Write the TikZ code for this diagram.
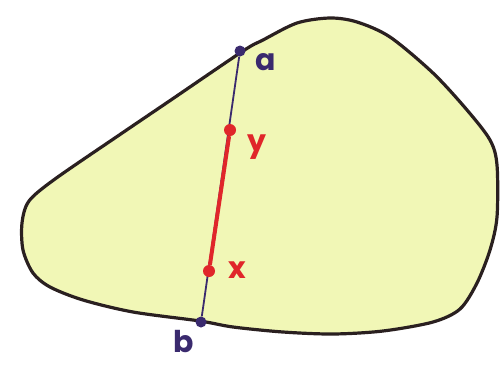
\documentclass[tikz,border=0pt]{standalone}
\usepackage{fontspec}
\setmainfont{Poppins}
\definecolor{blobfill}{HTML}{F1F7B6}
\definecolor{blobline}{HTML}{2A2020}
\definecolor{seg}{HTML}{3A2A6E}
\definecolor{redseg}{HTML}{E0262A}
\tikzset{
  dotp/.style={circle,fill=seg,inner sep=0pt,minimum size=11pt},
  dotr/.style={circle,fill=redseg,inner sep=0pt,minimum size=12pt},
  lblp/.style={text=seg,font=\fontsize{30}{30}\selectfont\bfseries,inner sep=0pt},
  lblr/.style={text=redseg,font=\fontsize{30}{30}\selectfont\bfseries,inner sep=0pt},
}
\begin{document}
\begin{tikzpicture}[x=1pt,y=-1pt]
\useasboundingbox (0,0) rectangle (500,378);
\fill[white] (0,0) rectangle (500,378);
\draw[blobline,line width=3.2pt,fill=blobfill,line join=round]
  plot[smooth cycle,tension=0.5] coordinates{
   (243,51) (263,40) (297,23) (330,18) (357,22) (390,37) (433,73) (467,110)
   (490,140) (497,165) (497,217) (490,250) (477,283) (460,309) (433,322)
   (383,331) (333,334) (283,332) (233,327) (200,321) (133,312) (83,300)
   (50,287) (33,273) (23,250) (22,223) (29,201) (55,179) (120,134.5) (170,100.6)};
\node[dotp] (a) at (240,51) {};
\node[dotp] (b) at (201,322) {};
\draw[seg,line width=1.8pt] (a) -- (b);
\node[dotr] (y) at (230,130) {};
\node[dotr] (x) at (209,271) {};
\draw[redseg,line width=4pt] (y) -- (x);
\node[lblp] (la) at (266,62) {a};
\node[lblr] (ly) at (257,147) {y};
\node[lblr] (lx) at (237,270) {x};
\node[lblp] (lb) at (184,342) {b};
\end{tikzpicture}
\end{document}
